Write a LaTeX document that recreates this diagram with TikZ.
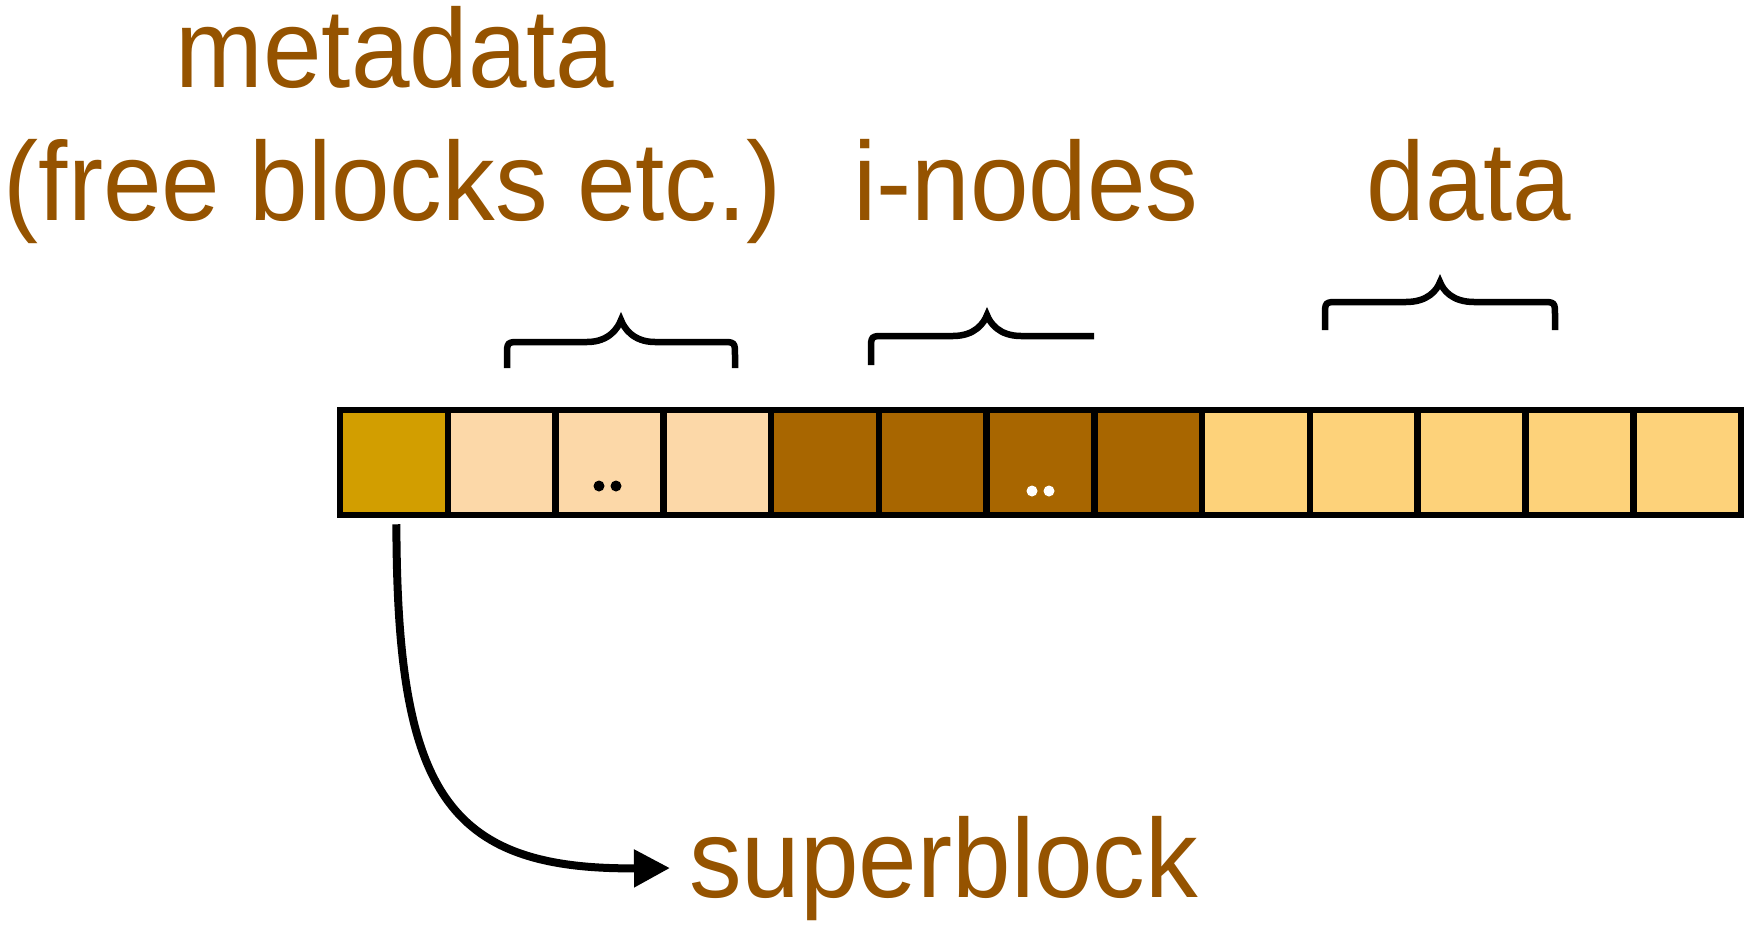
\documentclass[tikz,border=0pt]{standalone}
\usepackage{fontspec}
\setmainfont[FakeStretch=0.94]{Liberation Sans}
\usetikzlibrary{arrows.meta}

\definecolor{labelbrown}{RGB}{149,83,0}
\definecolor{superfill}{RGB}{210,158,0}
\definecolor{metafill}{RGB}{252,216,168}
\definecolor{inodefill}{RGB}{168,102,0}
\definecolor{datafill}{RGB}{253,210,122}

% horizontal curly brace: left x, right x, leg bottom y, bar y, tip y
\newcommand\curlybrace[5]{%
  \pgfmathsetmacro\bc{(#1+#2)/2}%
  \draw[bracestroke] (#1,#3) -- (#1,#4+14) .. controls (#1,#4) .. (#1+14,#4)
    -- (\bc-34,#4) .. controls (\bc-12,#4) and (\bc-3,#5+8) .. (\bc,#5)
    .. controls (\bc+3,#5+8) and (\bc+12,#4) .. (\bc+34,#4)
    -- (#2-14,#4) .. controls (#2,#4) .. (#2,#4+14) -- (#2,#3);}

\begin{document}
\begin{tikzpicture}[x=1pt,y=-1pt,
  lbl/.style={text=labelbrown, inner sep=0pt, font=\fontsize{112}{134}\selectfont, anchor=base},
  blk/.style={draw=black, line width=6.5pt, minimum width=107.77pt, minimum height=105pt, inner sep=0pt},
  bracestroke/.style={draw=black, line width=6.5pt},
  link/.style={draw=black, line width=8pt, -{Triangle[length=36pt,width=36pt]}}
]
\useasboundingbox (0,0) rectangle (1749,926);

% the row of disk blocks
\foreach \i/\col in {0/superfill,1/metafill,2/metafill,3/metafill,
                     4/inodefill,5/inodefill,6/inodefill,7/inodefill,
                     8/datafill,9/datafill,10/datafill,11/datafill,12/datafill}
  \node[blk, fill=\col] (c\i) at ({340+(\i+0.5)*107.77},462.5) {};

% ellipsis dots
\fill[black] (599,486) circle (5.5pt) (616,486) circle (5.5pt);
\fill[white] (1032,491) circle (5.5pt) (1049,491) circle (5.5pt);

% braces over the regions
\curlybrace{507}{735}{368}{342}{320}
\begin{scope}
  \clip (0,0) rectangle (1094,926);
  \curlybrace{871}{1103}{365}{336}{315}
\end{scope}
\curlybrace{1325}{1555}{330}{302}{282}

% labels
\node[lbl] (meta1) at (395,87) {metadata};
\node[lbl] (meta2) at (393,220) {(free blocks etc.)};
\node[lbl] (inodes) at (1026,220) {i-nodes};
\node[lbl] (datalbl) at (1469,220) {data};
\node[lbl, anchor=base west] (sb) at (689,897) {superblock};

% superblock pointer
\draw[link] ([xshift=2.5pt,yshift=-6pt]c0.south) .. controls (397,790) and (445,870) .. ([xshift=-19pt]sb.west);
\end{tikzpicture}
\end{document}
